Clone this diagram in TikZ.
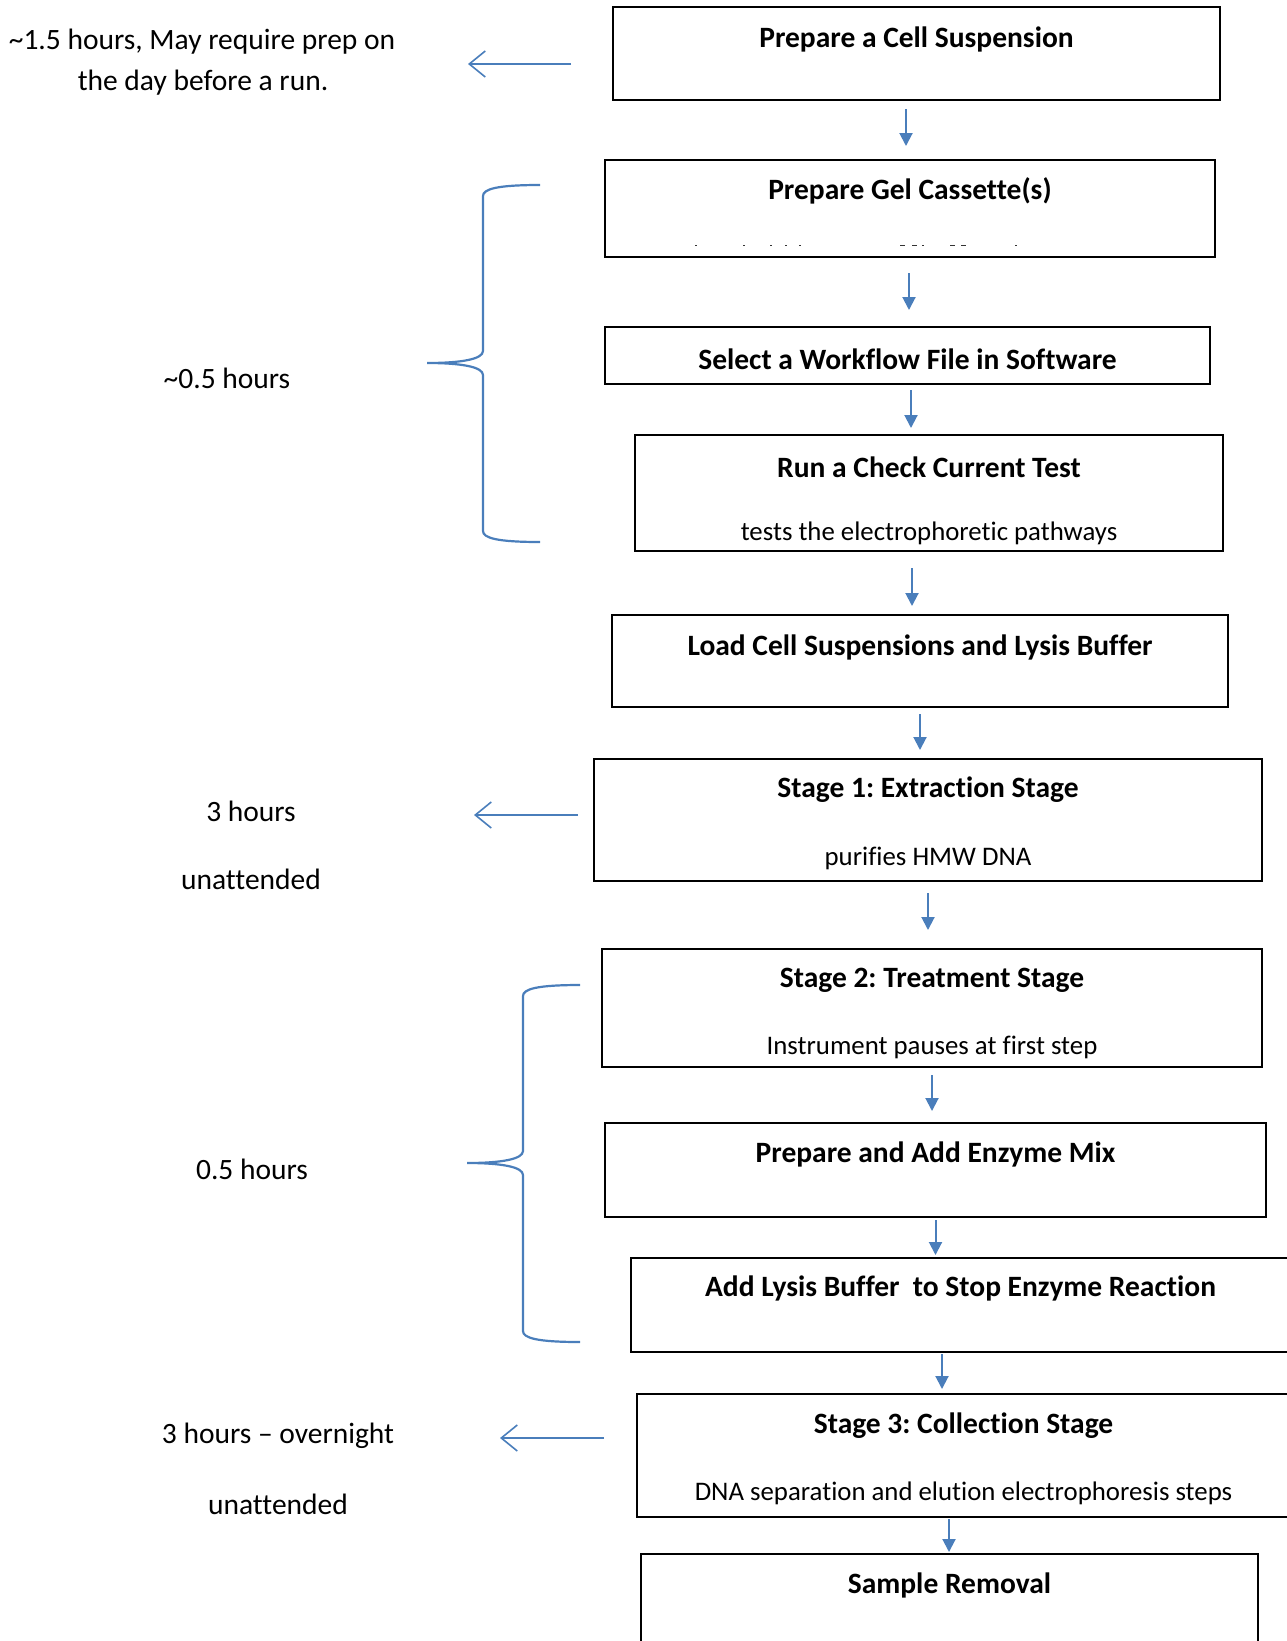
\documentclass[tikz,border=0pt]{standalone}
\usepackage{fontspec}
\setmainfont{Carlito}[Ligatures=NoCommon]
\usetikzlibrary{arrows.meta,fit,calc}
\definecolor{arrowblue}{RGB}{74,126,187}
\begin{document}
\frenchspacing
\begin{tikzpicture}[x=1pt,y=-1pt,
  box/.style={draw=black,line width=2pt,inner sep=0pt},
  title/.style={font=\fontsize{29.5}{34}\selectfont\bfseries,inner sep=0pt},
  sub/.style={font=\fontsize{26.8}{32}\selectfont,inner sep=0pt},
  note/.style={font=\fontsize{29.5}{34}\selectfont,inner sep=0pt},
  flow/.style={draw=arrowblue,line width=2pt,-{Triangle[length=13pt,width=13pt]}},
  side/.style={draw=arrowblue,line width=1.6pt,-{Straight Barb[length=16pt,width=26pt]}},
  brace/.style={draw=arrowblue,line width=2.2pt},
  remnant/.style={fill=black!80,draw=none}]
\useasboundingbox (0,0) rectangle (1287,1641);
% boxes
\node[box,fit={(613,7) (1220,100)}] (b1) {};
\node[box,fit={(605,160) (1215,257)}] (b2) {};
\node[box,fit={(605,327) (1210,384)}] (b3) {};
\node[box,fit={(635,435) (1223,551)}] (b4) {};
\node[box,fit={(612,615) (1228,707)}] (b5) {};
\node[box,fit={(594,759) (1262,881)}] (b6) {};
\node[box,fit={(602,949) (1262,1067)}] (b7) {};
\node[box,fit={(605,1123) (1266,1217)}] (b8) {};
\node[box,fit={(631,1258) (1290,1352)}] (b9) {};
\node[box,fit={(637,1394) (1290,1517)}] (b10) {};
\node[box,fit={(641,1554) (1258,1660)}] (b11) {};
% titles
\node[title] (t1) at ($(b1.north)+(0,33)$) {Prepare a Cell Suspension};
\node[title] (t2) at ($(b2.north)+(0,32)$) {Prepare Gel Cassette(s)};
\node[title] (t3) at ($(b3.north)+(0,33)$) {Select a Workflow File in Software};
\node[title] (t4) at ($(b4.north)+(0,33)$) {Run a Check Current Test};
\node[sub] (s4) at ($(b4.north)+(0,99)$) {tests the electrophoretic pathways};
\node[title] (t5) at ($(b5.north)+(0,33)$) {Load Cell Suspensions and Lysis Buffer};
\node[title] (t6) at ($(b6.north)+(0,32)$) {Stage 1: Extraction Stage};
\node[sub] (s6) at ($(b6.north)+(0,100)$) {purifies HMW DNA};
\node[title] (t7) at ($(b7.north)+(0,32)$) {Stage 2: Treatment Stage};
\node[sub] (s7) at ($(b7.north)+(0,99)$) {Instrument pauses at first step};
\node[title] (t8) at ($(b8.north)+(0,32)$) {Prepare and Add Enzyme Mix};
\node[title] (t9) at ($(b9.north)+(0,31)$) {Add Lysis Buffer\ \ to Stop Enzyme Reaction};
\node[title] (t10) at ($(b10.north)+(0,33)$) {Stage 3: Collection Stage};
\node[sub] (s10) at ($(b10.north)+(0,100)$) {DNA separation and elution electrophoresis steps};
\node[title] (t11) at ($(b11.north)+(0,32)$) {Sample Removal};
% clipped remnants of a hidden line in box 2
\foreach \mx/\mw in {695/2,743/2,770/2,785/2,799/2,900/5,912/5,922/2,950/5,961/5,1015/2}
  \fill[remnant] (\mx,244.5) rectangle ++(\mw,1.8);
% flow arrows
\draw[flow,shorten <=8pt,shorten >=13pt] ([xshift=-10.5pt]b1.south) -- ([xshift=-10.5pt]b1.south |- b2.north);
\draw[flow,shorten <=15pt,shorten >=16pt] ([xshift=-1pt]b2.south) -- ([xshift=-1pt]b2.south |- b3.north);
\draw[flow,shorten <=5pt,shorten >=6pt] ([xshift=3.5pt]b3.south) -- ([xshift=3.5pt]b3.south |- b4.north);
\draw[flow,shorten <=16pt,shorten >=8pt] ([xshift=-17pt]b4.south) -- ([xshift=-17pt]b4.south |- b5.north);
\draw[flow,shorten <=6pt,shorten >=8pt] (b5.south) -- (b5.south |- b6.north);
\draw[flow,shorten <=11pt,shorten >=18pt] (b6.south) -- (b6.south |- b7.north);
\draw[flow,shorten <=7pt,shorten >=11pt] (b7.south) -- (b7.south |- b8.north);
\draw[flow,shorten <=2pt,shorten >=2pt] (b8.south) -- (b8.south |- b9.north);
\draw[flow,shorten <=1pt,shorten >=4pt] ([xshift=-18.5pt]b9.south) -- ([xshift=-18.5pt]b9.south |- b10.north);
\draw[flow,shorten <=1pt,shorten >=1pt] ([xshift=-14.5pt]b10.south) -- ([xshift=-14.5pt]b10.south |- b11.north);
% notes
\node[note] (n1a) at (202,42) {\textasciitilde1.5 hours, May require prep on};
\node[note] (n1b) at (203,83) {the day before a run.};
\node[note] (n2) at (227,378) {\textasciitilde0.5 hours};
\node[note] (n3a) at (251,811) {3 hours};
\node[note] (n3b) at (251,879) {unattended};
\node[note] (n4) at (252,1169) {0.5 hours};
\node[note] (n5a) at (278,1436) {3 hours – overnight};
\node[note] (n5b) at (278,1504) {unattended};
% side arrows
\coordinate (e1) at (468,64);
\coordinate (e2) at (474,815);
\coordinate (e3) at (500,1438);
\draw[side,shorten <=41pt] ([yshift=-10.5pt]b1.west) -- (e1);
\draw[side,shorten <=15pt] ([yshift=5pt]b6.west) -- (e2);
\draw[side,shorten <=32pt] ([yshift=17.5pt]b10.west) -- (e3);
% braces
\draw[brace] (540,185) .. controls (497,185) and (483,189) .. (483,196) -- (483,351)
  .. controls (483,359) and (462,363) .. (427,363)
  .. controls (462,363) and (483,367) .. (483,375) -- (483,531)
  .. controls (483,538) and (497,542) .. (540,542);
\draw[brace] (580,985) .. controls (537,985) and (523,989) .. (523,996) -- (523,1151)
  .. controls (523,1159) and (502,1163) .. (467,1163)
  .. controls (502,1163) and (523,1167) .. (523,1175) -- (523,1331)
  .. controls (523,1338) and (537,1342) .. (580,1342);
\end{tikzpicture}
\end{document}
